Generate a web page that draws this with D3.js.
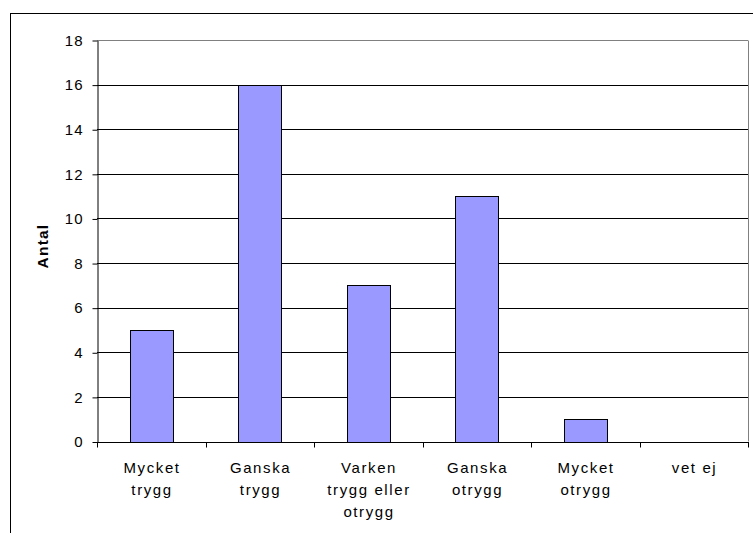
<!DOCTYPE html>
<html>
<head>
<meta charset="utf-8">
<script src="https://cdn.jsdelivr.net/npm/d3@7"></script>
<style>
  html, body { margin: 0; padding: 0; background: #fff; }
  svg { display: block; }
  text { font-family: "Liberation Sans", Arial, sans-serif; fill: #000; }
</style>
</head>
<body>
<svg id="chart" width="753" height="533"></svg>
<script>
// Survey answers and counts
const categories = [
  ["Mycket", "trygg"],
  ["Ganska", "trygg"],
  ["Varken", "trygg eller", "otrygg"],
  ["Ganska", "otrygg"],
  ["Mycket", "otrygg"],
  ["vet ej"]
];
const counts = [5, 16, 7, 11, 1, 0];
const yTicks = [0, 2, 4, 6, 8, 10, 12, 14, 16, 18];
const yTitle = "Antal";

const svg = d3.select("#chart");

// Outer chart frame
svg.append("rect")
  .attr("x", 10.5).attr("y", 13.5)
  .attr("width", 800).attr("height", 600)
  .attr("fill", "none").attr("stroke", "#000").attr("stroke-width", 1);

const plot = { left: 97, right: 748, top: 40, bottom: 441.5 };

const x = d3.scaleBand()
  .domain(d3.range(categories.length))
  .range([plot.left, plot.right])
  .paddingInner(0.6).paddingOuter(0.3);

const xBand = d3.scaleBand()
  .domain(d3.range(categories.length))
  .range([plot.left, plot.right]);

const y = d3.scaleLinear().domain([0, 18]).range([plot.bottom, plot.top]);

// Gridlines
svg.append("g").selectAll("line")
  .data(yTicks.filter(t => t > 0))
  .join("line")
  .attr("x1", plot.left).attr("x2", plot.right)
  .attr("y1", d => Math.round(y(d)) + 0.5).attr("y2", d => Math.round(y(d)) + 0.5)
  .attr("stroke", d => d === 18 ? "#808080" : "#000")
  .attr("stroke-width", 1);

// Plot area right border
svg.append("line")
  .attr("x1", plot.right + 0.5).attr("x2", plot.right + 0.5)
  .attr("y1", Math.round(y(18)) + 0.5).attr("y2", plot.bottom)
  .attr("stroke", "#808080");

// Bars
svg.append("g").selectAll("rect")
  .data(counts)
  .join("rect")
  .attr("x", (d, i) => Math.round(x(i)) + 0.5)
  .attr("y", d => Math.round(y(d)) + 0.5)
  .attr("width", Math.round(x.bandwidth()))
  .attr("height", d => Math.round(y(0)) - Math.round(y(d)))
  .attr("fill", "#9999FF")
  .attr("stroke", d => d > 0 ? "#000" : "none")
  .attr("stroke-width", 1);

// Y axis
const yAxis = d3.axisLeft(y).tickValues(yTicks).tickSize(5).tickPadding(9).tickSizeOuter(0);
const gy = svg.append("g")
  .attr("transform", `translate(${plot.left + 0.5},0.5)`)
  .call(yAxis);
gy.select(".domain").attr("stroke", "#000");
gy.selectAll(".tick line").attr("stroke", "#000");
gy.selectAll(".tick text")
  .attr("font-size", 15)
  .attr("letter-spacing", 1)
  .attr("font-family", "Liberation Sans, Arial, sans-serif")
  .attr("fill", "#000");

// X axis baseline and category dividers
const xBase = Math.round(y(0)) + 0.5;
svg.append("line")
  .attr("x1", plot.left).attr("x2", plot.right + 1)
  .attr("y1", xBase).attr("y2", xBase)
  .attr("stroke", "#000");
const dividers = d3.range(categories.length + 1).map(i =>
  i < categories.length ? xBand(i) : xBand(i - 1) + xBand.bandwidth());
svg.append("g").selectAll("line")
  .data(dividers)
  .join("line")
  .attr("x1", d => Math.round(d) + 0.5).attr("x2", d => Math.round(d) + 0.5)
  .attr("y1", xBase).attr("y2", xBase + 5)
  .attr("stroke", "#000");

// Category labels
const labels = svg.append("g").selectAll("text")
  .data(categories)
  .join("text")
  .attr("text-anchor", "middle")
  .attr("font-size", 15)
  .attr("letter-spacing", 1.6)
  .attr("x", (d, i) => xBand(i) + xBand.bandwidth() / 2 + 0.8)
  .attr("y", 472.5);
labels.selectAll("tspan")
  .data(d => d)
  .join("tspan")
  .attr("x", function () { return d3.select(this.parentNode).attr("x"); })
  .attr("dy", (d, i) => i === 0 ? 0 : 22.3)
  .text(d => d);

// Y axis title
svg.append("text")
  .attr("transform", `translate(48,246) rotate(-90)`)
  .attr("text-anchor", "middle")
  .attr("font-size", 15.5)
  .attr("letter-spacing", 1.2)
  .attr("font-weight", "bold")
  .text(yTitle);
</script>
</body>
</html>
